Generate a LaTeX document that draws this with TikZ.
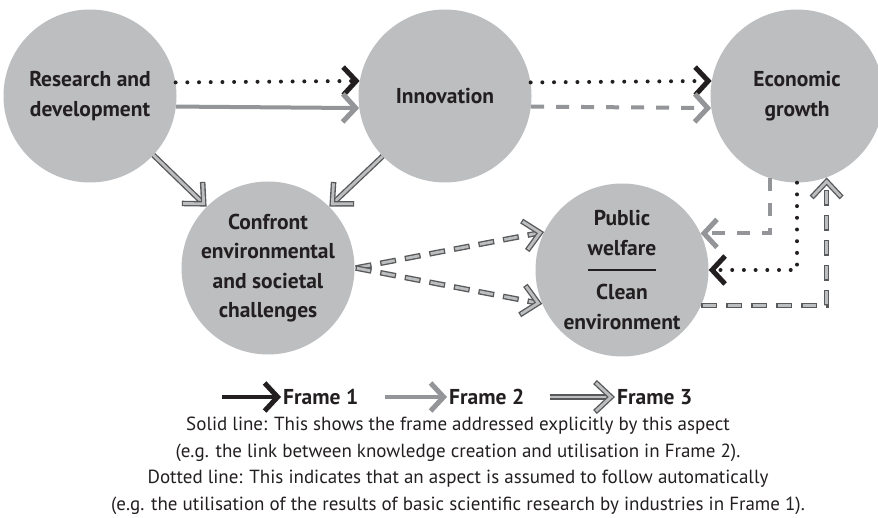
\documentclass[tikz,border=0pt]{standalone}
\usepackage{fontspec}
\setmainfont{PT Sans}
\usepackage{tikz}
\usetikzlibrary{arrows.meta,decorations.markings,calc}
\definecolor{dfdark}{HTML}{231F20}
\definecolor{dfgray}{HTML}{939598}
\definecolor{dfcircle}{HTML}{BCBEC0}
\definecolor{dfline}{HTML}{58595B}
\definecolor{dffill}{HTML}{BCBEC0}
\tikzstyle{stage} = [circle,fill=dfcircle,minimum size=173pt,inner sep=0pt,align=center,text=dfdark,font=\bfseries\fontsize{21.5}{29.5}\selectfont]
\tikzstyle{legend} = [inner sep=2pt,text=dfdark,font=\bfseries\fontsize{21.5}{24}\selectfont]
\tikzstyle{fone} = [line width=4pt,color=dfdark,-{Straight Barb[length=13pt,width=28pt,line width=5pt]}]
\tikzstyle{fonedot} = [fone,line cap=round,dash pattern=on 0pt off 11.7pt]
\tikzstyle{ftwo} = [line width=4pt,color=dfgray,-{Straight Barb[length=13pt,width=28pt,line width=5pt]}]
\tikzstyle{ftwodash} = [ftwo,dash pattern=on 13pt off 12pt]
\tikzstyle{fthreetip} = [solid,draw=dfline,line width=5.5pt,line join=miter,shorten <=0pt,shorten >=0pt,postaction={draw=dffill,line width=2.8pt,shorten <=1.3pt,shorten >=1.3pt}]
\tikzstyle{fthree} = [draw=dfline,line width=5.5pt,postaction={draw=dffill,line width=2.8pt}]
\tikzstyle{fthreedash} = [draw=dfline,line width=5.5pt,dash pattern=on 16pt off 9pt,postaction={draw=dffill,line width=2.8pt,dash pattern=on 13.4pt off 11.6pt,dash phase=23.7pt}]
\tikzstyle{fthreeend} = [shorten >=6pt,postaction={decorate,decoration={markings,mark=at position 1 with {\draw[fthreetip] (-20pt,15pt) -- (-4pt,0pt) -- (-20pt,-15pt);}}}]

\begin{document}
\begin{tikzpicture}[x=1pt,y=-1pt]
\useasboundingbox (0,0) rectangle (878,518);

% Circles
\node[stage] (rd) at (90,96) {Research and\\development};
\node[stage] (inn) at (445,96) {Innovation};
\node[stage] (econ) at (797,96) {Economic\\growth};
\node[stage] (conf) at (268,268) {Confront\\environmental\\and societal\\challenges};
\node[stage] (pw) at (622,270) {Public\\welfare\\[15pt]Clean\\environment};
\draw[line width=1.3pt,dfdark] ([xshift=-34pt]pw.center) -- ([xshift=34pt]pw.center);

% Top row
\draw[fonedot] (rd.9.3) -- (inn.170.7);
\draw[ftwo] (rd.-7.9) -- (inn.-172.1);
\draw[fonedot] (inn.9.3) -- (econ.170.7);
\draw[ftwodash] (inn.-7.9) -- (econ.-172.1);

% Down to the challenges
\draw[fthree,fthreeend] (rd.-43) -- (conf.135);
\draw[fthree,fthreeend] (inn.-136) -- (conf.45);

% Challenges and welfare
\coordinate (split) at ([xshift=1pt]conf.east);
\draw[fthreedash,fthreeend] (split) -- (pw.154);
\draw[fthreedash,fthreeend] (split) -- (pw.-157);

% Back from growth
\draw[ftwodash] (econ.-108) |- (pw.25);
\draw[fonedot] (econ.south) |- (pw.east);
\draw[fthreedash,fthreeend] (pw.-24.4) -| (econ.-70.5);

% Legend
\coordinate (l1s) at (222,397);
\coordinate (l2s) at (385,397);
\coordinate (l3s) at (550,397);
\node[legend,anchor=west] (l1) at (281,397) {Frame 1};
\node[legend,anchor=west] (l2) at (447,397) {Frame 2};
\node[legend,anchor=west] (l3) at (615,397) {Frame 3};
\draw[fone] (l1s) -- (l1.west);
\draw[ftwo] (l2s) -- (l2.west);
\draw[fthree,fthreeend] (l3s) -- (l3.west);

\node[align=center,text=dfdark,font=\fontsize{19}{26.5}\selectfont] (note) at (458,466) {Solid line: This shows the frame addressed explicitly by this aspect\\(e.g. the link between knowledge creation and utilisation in Frame 2).\\Dotted line: This indicates that an aspect is assumed to follow automatically\\(e.g. the utilisation of the results of basic scientific research by industries in Frame 1).};
\end{tikzpicture}
\end{document}
